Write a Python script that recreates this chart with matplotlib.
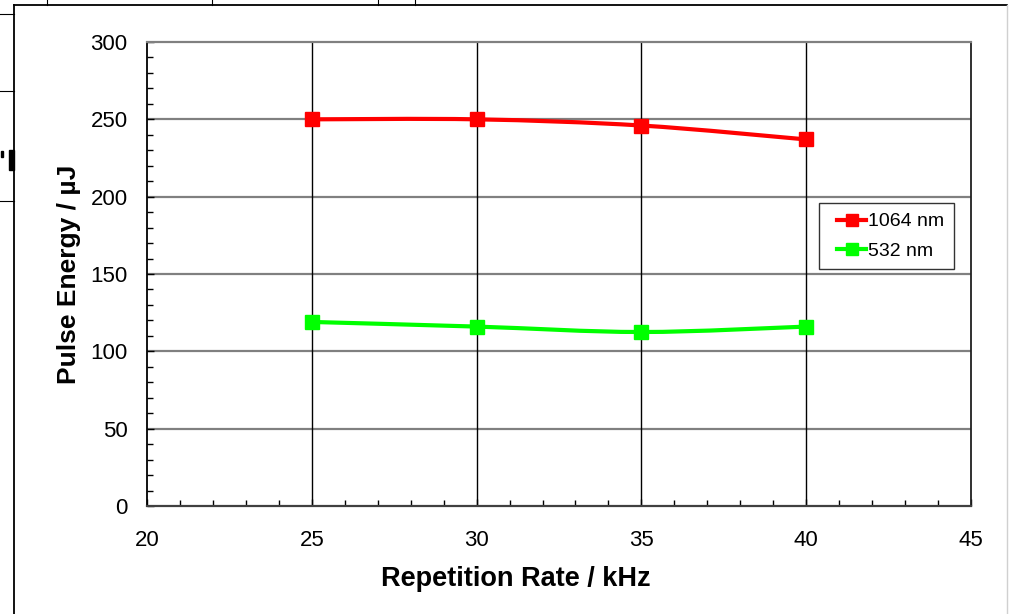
import matplotlib
matplotlib.use("Agg")
import matplotlib.pyplot as plt
from matplotlib.path import Path
from matplotlib.patches import PathPatch
from matplotlib.lines import Line2D
from matplotlib.legend_handler import HandlerLine2D
from matplotlib.ticker import MultipleLocator
import numpy as np

plt.rcParams['font.family'] = ['Liberation Sans', 'DejaVu Sans']

rep_rate = [25, 30, 35, 40]
energy_1064 = [250, 250, 246, 237]
energy_532 = [119, 116, 112.5, 116]
series_labels = ['1064 nm', '532 nm']
series_colors = ['#ff0000', '#00ff00']

W, H = 1009, 614
fig = plt.figure(figsize=(W / 100, H / 100), dpi=100)

def fx(px):
    return px / W

def fy(py):
    return 1 - py / H

# document artefacts / chart frame
frame_lines = [
    ((14, 14), (5, 614), 'black', 1.3),
    ((14, 1007), (5, 5), 'black', 1.3),
    ((1007, 1007), (5, 614), '#d0d0d0', 1.0),
    ((0, 14), (14, 14), 'black', 0.8),
    ((0, 14), (91, 91), 'black', 0.8),
    ((0, 14), (201, 201), 'black', 0.8),
    ((47, 47), (0, 5), 'black', 0.8),
    ((212, 212), (0, 5), 'black', 0.8),
    ((378, 378), (0, 5), 'black', 0.8),
    ((415, 415), (0, 5), 'black', 0.8),
]
for xs, ys, c, lw in frame_lines:
    fig.add_artist(Line2D([fx(x) for x in xs], [fy(y) for y in ys],
                          color=c, lw=lw, transform=fig.transFigure))
fig.patches.append(plt.Rectangle((fx(9), fy(170)), fx(5), 20 / H, color='black',
                                 transform=fig.transFigure))
fig.patches.append(plt.Rectangle((fx(1), fy(157)), fx(2), 6 / H, color='black',
                                 transform=fig.transFigure))

ax = fig.add_axes([fx(147), fy(506), fx(971) - fx(147), fy(42) - fy(506)])
ax.set_xlim(20, 45)
ax.set_ylim(0, 300)
ax.xaxis.set_major_locator(MultipleLocator(5))
ax.xaxis.set_minor_locator(MultipleLocator(1))
ax.yaxis.set_major_locator(MultipleLocator(50))
ax.yaxis.set_minor_locator(MultipleLocator(10))
ax.tick_params(which='both', direction='in', color='black', width=1)
ax.tick_params(which='major', length=5, labelsize=16)
ax.tick_params(which='minor', length=4)
ax.tick_params(axis='x', which='major', pad=17)
ax.tick_params(axis='y', which='major', pad=14)

for v in [50, 100, 150, 200, 250]:
    ax.axhline(v, color='#808080', lw=1.6, zorder=1)
for v in [25, 30, 35, 40]:
    ax.axvline(v, color='black', lw=1.0, zorder=1)

ax.spines['left'].set_color('black')
ax.spines['left'].set_linewidth(1.3)
ax.spines['bottom'].set_color('#404040')
ax.spines['bottom'].set_linewidth(1.6)
ax.spines['top'].set_color('#808080')
ax.spines['top'].set_linewidth(1.6)
ax.spines['right'].set_color('#202020')
ax.spines['right'].set_linewidth(1.3)


def smooth_path(xs, ys):
    pts = np.column_stack([xs, ys]).astype(float)
    n = len(pts)
    verts = [pts[0]]
    codes = [Path.MOVETO]
    for i in range(n - 1):
        p0 = pts[i - 1] if i > 0 else pts[i]
        p1 = pts[i]
        p2 = pts[i + 1]
        p3 = pts[i + 2] if i + 2 < n else pts[i + 1]
        c1 = p1 + (p2 - p0) / 6.0
        c2 = p2 - (p3 - p1) / 6.0
        verts += [c1, c2, p2]
        codes += [Path.CURVE4] * 3
    return Path(verts, codes)


for ys, color, label in zip([energy_1064, energy_532], series_colors, series_labels):
    ax.add_patch(PathPatch(smooth_path(rep_rate, ys), fill=False, edgecolor=color,
                           lw=3.0, zorder=3, capstyle='round'))
    ax.plot(rep_rate, ys, linestyle='none', marker='s', markersize=9.5,
            color=color, zorder=4)

handles = [Line2D([], [], color=c, lw=3.0, marker='s', markersize=8) for c in series_colors]
leg = ax.legend(handles, series_labels, loc='upper left',
                bbox_to_anchor=((819 - 147) / 824, (506 - 203) / 464),
                fontsize=14, frameon=True, fancybox=False, edgecolor='black',
                handlelength=1.93, handletextpad=0.1, borderpad=0.5,
                labelspacing=0.6, borderaxespad=0,
                handler_map={Line2D: HandlerLine2D(xpad=0.43)})
leg.get_frame().set_linewidth(1.0)

ax.set_xlabel('Repetition Rate / kHz', fontsize=19.5, fontweight='bold', labelpad=10)
ax.xaxis.set_label_coords((516 - 147) / 824, -0.13)
ax.set_ylabel('Pulse Energy / µJ', fontsize=19, fontweight='bold', labelpad=7)

fig.savefig('out.png', dpi=100)
